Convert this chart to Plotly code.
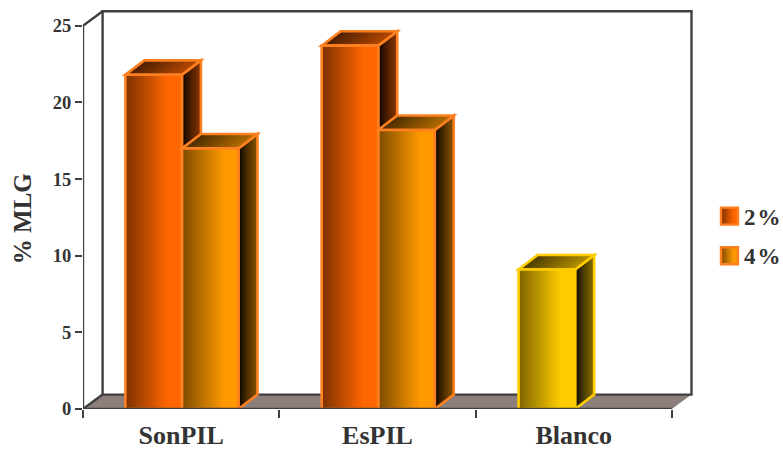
import plotly.graph_objects as go

# Percentages per formulation
categories = ["SonPIL", "EsPIL", "Blanco"]
series_2 = [21.8, 23.7]
series_4 = [17.0, 18.2]
blanco = [9.1]
y_ticks = [0, 5, 10, 15, 20, 25]

W, H = 783, 451
LEFT, RIGHT, TOP, BOTTOM = 83, 696, 9, 408.7
PX_X = 196.3   # pixels per category
PX_Y = 15.32   # pixels per percentage point
DX = 19.0 / PX_X
DY = 14.4 / PX_Y
WALL_DX = 19.6 / PX_X
BAR_W = 0.288
STRIPS = 26
INK = "#404040"
SERIF = "Liberation Serif"
EDGE_W = 2.6

def lerp(a, b, t):
    return "rgb(%d,%d,%d)" % tuple(round(p + (q - p) * t) for p, q in zip(a, b))

def ramp(dark, bright, t, flat=0.72):
    return lerp(dark, bright, min(t / flat, 1))

def poly(points, **kw):
    path = "M" + " L".join(f"{x:.4f},{y:.4f}" for x, y in points) + " Z"
    return dict(type="path", path=path, layer="below", **kw)

shapes = []

# Floor and back walls
shapes.append(poly([(0, 0), (WALL_DX, DY), (3 + WALL_DX, DY), (3, 0)],
                   xref="x", yref="y", fillcolor="#8c7f7b", line=dict(width=0)))
frame = [(WALL_DX, DY), (WALL_DX, 25 + DY), (3 + WALL_DX, 25 + DY), (3 + WALL_DX, DY)]
shapes.append(dict(type="path", layer="below", xref="x", yref="y",
                   path="M" + " L".join(f"{x:.4f},{y:.4f}" for x, y in frame + [(WALL_DX, DY)]),
                   line=dict(color=INK, width=2.4)))

def add_bar(x0, value, palette, edge):
    x1 = x0 + BAR_W
    front_d, front_b = palette
    side_b = tuple(c * 0.55 for c in front_b)
    top_d = tuple(c * 0.3 for c in front_b)
    top_b = tuple(c * 0.72 for c in front_b)
    line0 = dict(width=0)
    for i in range(STRIPS):
        t = i / STRIPS
        # each strip runs to the far edge so no seams show between them
        shapes.append(poly([(x1 + DX * t, DY * t), (x1 + DX, DY), (x1 + DX, value + DY),
                            (x1 + DX * t, value + DY * t)], xref="x", yref="y",
                           fillcolor=lerp((0, 0, 0), side_b, t ** 0.75), line=line0))
    shapes.append(poly([(x1, 0), (x1 + DX, DY), (x1 + DX, value + DY), (x1, value)],
                       xref="x", yref="y", line=dict(color=edge, width=EDGE_W)))
    for i in range(STRIPS):
        t = i / STRIPS
        xs = x0 + BAR_W * t
        shapes.append(poly([(xs, value), (x1, value), (x1 + DX, value + DY), (xs + DX, value + DY)],
                           xref="x", yref="y", fillcolor=lerp(top_d, top_b, t), line=line0))
    shapes.append(poly([(x0, value), (x1, value), (x1 + DX, value + DY), (x0 + DX, value + DY)],
                       xref="x", yref="y", line=dict(color=edge, width=EDGE_W)))
    for i in range(STRIPS):
        t = i / STRIPS
        shapes.append(dict(type="rect", layer="below", xref="x", yref="y",
                           x0=x0 + BAR_W * t, x1=x1, y0=0, y1=value,
                           fillcolor=ramp(front_d, front_b, t), line=line0))

ORANGE = ((128, 51, 0), (255, 102, 0))
AMBER = ((128, 77, 0), (255, 153, 0))
YELLOW = ((128, 102, 0), (255, 204, 0))
EDGE_O = "#ff8020"
EDGE_Y = "#ffcc00"

OFFSET_A, OFFSET_B = 0.216, 0.504
pos_2 = [i + OFFSET_A for i in range(len(series_2))]
pos_4 = [i + OFFSET_B for i in range(len(series_4))]
pos_blanco = [2 + OFFSET_A + 0.003]

for x, a, b in zip(pos_2, series_2, series_4):
    add_bar(x, a, ORANGE, EDGE_O)
    add_bar(x + OFFSET_B - OFFSET_A, b, AMBER, EDGE_O)
add_bar(pos_blanco[0], blanco[0], YELLOW, EDGE_Y)

fig = go.Figure()

# Front-face outlines
for xs, ys, edge in ((pos_2, series_2, EDGE_O), (pos_4, series_4, EDGE_O), (pos_blanco, blanco, EDGE_Y)):
    fig.add_trace(go.Bar(x=[x + BAR_W / 2 for x in xs], y=ys, width=BAR_W,
                         marker=dict(color="rgba(0,0,0,0)", line=dict(color=edge, width=EDGE_W)),
                         showlegend=False, hoverinfo="skip"))

# Front axes and the two diagonal wall edges
fig.add_trace(go.Scatter(
    x=[WALL_DX, 0, 0, 3, None, 0, WALL_DX],
    y=[25 + DY, 25, 0, 0, None, 0, DY],
    mode="lines", line=dict(color=INK, width=2.4), cliponaxis=False,
    showlegend=False, hoverinfo="skip"))

# Legend swatches, placed in pixels and converted to the plot-area fractions used by paper refs
def px_x(v):
    return (v - LEFT) / (RIGHT - LEFT)

def px_y(v):
    return (BOTTOM - v) / (BOTTOM - TOP)

SW_L, SW_R, SW_H = 721, 738, 17
legend = [("2\u200a%", 207.5, ORANGE), ("4\u200a%", 247, AMBER)]
annotations = []
for label, top, palette in legend:
    for i in range(STRIPS):
        t = i / STRIPS
        shapes.append(dict(type="rect", layer="above", xref="paper", yref="paper",
                           x0=px_x(SW_L + (SW_R - SW_L) * t), x1=px_x(SW_R),
                           y0=px_y(top + SW_H), y1=px_y(top),
                           fillcolor=ramp(palette[0], palette[1], t), line=dict(width=0)))
    shapes.append(dict(type="rect", layer="above", xref="paper", yref="paper",
                       x0=px_x(SW_L), x1=px_x(SW_R), y0=px_y(top + SW_H), y1=px_y(top),
                       line=dict(color=EDGE_O, width=2.4)))
    annotations.append(dict(text=f"<b>{label}</b>", xref="paper", yref="paper",
                            x=px_x(742), y=px_y(top + SW_H / 2 + 1), xanchor="left", yanchor="middle",
                            showarrow=False, font=dict(family=SERIF, size=23, color="#333333")))

annotations.append(dict(text="<b>% MLG</b>", xref="paper", yref="paper",
                        x=px_x(22), y=px_y(219), textangle=-90, showarrow=False,
                        xanchor="center", yanchor="middle",
                        font=dict(family=SERIF, size=25, color="#333333")))

fig.update_layout(
    width=W, height=H, paper_bgcolor="white", plot_bgcolor="rgba(0,0,0,0)",
    margin=dict(l=LEFT, r=W - RIGHT, t=TOP, b=H - BOTTOM, pad=0, autoexpand=False),
    barmode="overlay", showlegend=False, shapes=shapes, annotations=annotations,
    xaxis=dict(range=[0, (RIGHT - LEFT) / PX_X], showgrid=False, zeroline=False, showline=False,
               tickmode="array", tickvals=[0.5, 1.5, 2.5], ticktext=[f"<b>{c}</b>" for c in categories],
               ticks="", ticklabelstandoff=8,
               tickfont=dict(family=SERIF, size=26, color="#333333"),
               minor=dict(tickmode="array", tickvals=[0, 1, 2, 3], ticks="outside", ticklen=8,
                          tickwidth=2.4, tickcolor=INK)),
    yaxis=dict(range=[0, (BOTTOM - TOP) / PX_Y], showgrid=False, zeroline=False, showline=False,
               tickmode="array", tickvals=y_ticks, ticktext=[f"<b>{v}</b>" for v in y_ticks],
               ticks="outside", ticklen=7, tickwidth=2.4, tickcolor=INK,
               tickfont=dict(family=SERIF, size=18.5, color="#333333")),
)

fig.write_html("out.html")
